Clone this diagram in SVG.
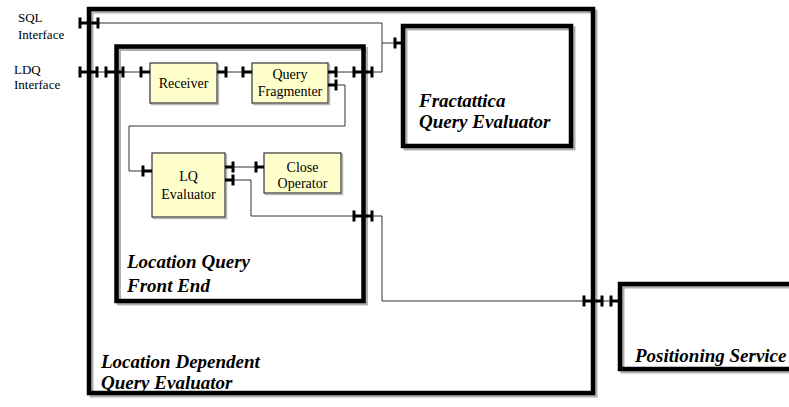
<svg xmlns="http://www.w3.org/2000/svg" width="789" height="407" viewBox="0 0 789 407">
  <style>
    .cap { fill: none; stroke: #000; stroke-width: 4.5; }
    .capShadow { fill: none; stroke: #b0b0b0; stroke-width: 4; }
    .cls { fill: #ffffcc; stroke: #333; stroke-width: 1.2; }
    .clsShadow { fill: none; stroke: #b8b8b8; stroke-width: 1.5; }
    .wire { fill: none; stroke: #333; stroke-width: 1; }
    .stub { stroke: #000; stroke-width: 3; }
    .lbl { font-family: "Liberation Serif", "Times New Roman", serif; font-size: 13px; fill: #000; }
    .cname { font-family: "Liberation Serif", "Times New Roman", serif; font-size: 14px; fill: #000; text-anchor: middle; }
    .title { font-family: "Liberation Serif", "Times New Roman", serif; font-size: 19px; font-weight: bold; font-style: italic; fill: #000; }
  </style>
  <defs>
    <!-- port tick -->
    <rect id="t" x="-1.5" y="-5.5" width="3" height="11"/>
  </defs>
  <rect width="789" height="407" fill="#fff"/>

  <!-- capsule outlines -->
  <g id="ldqe">
    <rect class="capShadow" x="91.5" y="11.5" width="504" height="384"/>
    <rect class="cap" x="89" y="9" width="504" height="384"/>
    <text class="title" x="101" y="368">Location Dependent</text>
    <text class="title" x="101" y="389">Query Evaluator</text>
  </g>
  <g id="lqfe">
    <rect class="capShadow" x="119" y="49" width="247" height="254.5"/>
    <rect class="cap" x="116.5" y="46.5" width="247" height="254.5"/>
    <text class="title" x="127" y="268">Location Query</text>
    <text class="title" x="127" y="292">Front End</text>
  </g>
  <g id="fractattica">
    <rect class="capShadow" x="405.5" y="28.5" width="168" height="120"/>
    <rect class="cap" x="403" y="26" width="168" height="120"/>
    <text class="title" x="419" y="107">Fractattica</text>
    <text class="title" x="419" y="128">Query Evaluator</text>
  </g>
  <g id="positioning">
    <rect class="capShadow" x="622.5" y="286.5" width="200" height="85"/>
    <rect class="cap" x="620" y="284" width="200" height="85"/>
    <text class="title" x="635" y="362">Positioning Service</text>
  </g>

  <!-- classes -->
  <g id="receiver">
    <rect class="clsShadow" x="151.5" y="64.5" width="67" height="40"/>
    <rect class="cls" x="150" y="63" width="67" height="40"/>
    <text class="cname" x="183.5" y="88">Receiver</text>
  </g>
  <g id="fragmenter">
    <rect class="clsShadow" x="253.5" y="64.5" width="76" height="40"/>
    <rect class="cls" x="252" y="63" width="76" height="40"/>
    <text class="cname" x="290" y="79">Query</text>
    <text class="cname" x="290" y="96">Fragmenter</text>
  </g>
  <g id="lqeval">
    <rect class="clsShadow" x="153.5" y="154.5" width="73" height="64"/>
    <rect class="cls" x="152" y="153" width="73" height="64"/>
    <text class="cname" x="188.5" y="181">LQ</text>
    <text class="cname" x="188.5" y="199">Evaluator</text>
  </g>
  <g id="closeop">
    <rect class="clsShadow" x="265.5" y="154.5" width="77" height="40"/>
    <rect class="cls" x="264" y="153" width="77" height="40"/>
    <text class="cname" x="302.5" y="172">Close</text>
    <text class="cname" x="302.5" y="188">Operator</text>
  </g>

  <!-- interface labels -->
  <g id="sql-label">
    <text class="lbl" x="18" y="22">SQL</text>
    <text class="lbl" x="18" y="39">Interface</text>
  </g>
  <g id="ldq-label">
    <text class="lbl" x="14" y="74">LDQ</text>
    <text class="lbl" x="14" y="89">Interface</text>
  </g>

  <!-- connectors and ports -->
  <g id="connectors">
    <!-- SQL interface to fractattica and fragmenter -->
    <polyline class="wire" points="80,23 382,23 382,72"/>
    <polyline class="wire" points="382,43 403,43"/>
    <line class="stub" x1="80" y1="23" x2="98" y2="23"/>
    <use href="#t" x="80" y="23"/><use href="#t" x="98" y="23"/>
    <line class="stub" x1="395" y1="43" x2="403" y2="43"/>
    <use href="#t" x="395" y="43"/>

    <!-- LDQ interface to receiver -->
    <line class="wire" x1="80" y1="72" x2="150" y2="72"/>
    <line class="stub" x1="80" y1="72" x2="97" y2="72"/>
    <line class="stub" x1="106" y1="72" x2="123" y2="72"/>
    <line class="stub" x1="141" y1="72" x2="150" y2="72"/>
    <use href="#t" x="80" y="72"/><use href="#t" x="97" y="72"/>
    <use href="#t" x="106" y="72"/><use href="#t" x="123" y="72"/>
    <use href="#t" x="141" y="72"/>

    <!-- receiver to fragmenter -->
    <line class="wire" x1="217" y1="72" x2="252" y2="72"/>
    <line class="stub" x1="217" y1="72" x2="226" y2="72"/>
    <line class="stub" x1="243" y1="72" x2="252" y2="72"/>
    <use href="#t" x="226" y="72"/><use href="#t" x="243" y="72"/>

    <!-- fragmenter out to SQL junction -->
    <line class="wire" x1="328" y1="72" x2="382" y2="72"/>
    <line class="stub" x1="328" y1="72" x2="336" y2="72"/>
    <line class="stub" x1="354" y1="72" x2="372" y2="72"/>
    <use href="#t" x="336" y="72"/><use href="#t" x="354" y="72"/><use href="#t" x="372" y="72"/>

    <!-- fragmenter to LQ evaluator -->
    <polyline class="wire" points="328,85 345,85 345,126 129,126 129,171 152,171"/>
    <line class="stub" x1="328" y1="85" x2="336" y2="85"/>
    <use href="#t" x="336" y="85"/>
    <line class="stub" x1="143" y1="171" x2="152" y2="171"/>
    <use href="#t" x="143" y="171"/>

    <!-- LQ evaluator to close operator -->
    <line class="wire" x1="225" y1="167" x2="264" y2="167"/>
    <line class="stub" x1="225" y1="167" x2="233" y2="167"/>
    <line class="stub" x1="256" y1="167" x2="264" y2="167"/>
    <use href="#t" x="233" y="167"/><use href="#t" x="256" y="167"/>

    <!-- LQ evaluator to positioning service -->
    <polyline class="wire" points="225,180 251,180 251,216 382,216 382,301 620,301"/>
    <line class="stub" x1="225" y1="180" x2="233" y2="180"/>
    <use href="#t" x="233" y="180"/>
    <line class="stub" x1="354" y1="216" x2="372" y2="216"/>
    <use href="#t" x="354" y="216"/><use href="#t" x="372" y="216"/>
    <line class="stub" x1="584" y1="301" x2="602" y2="301"/>
    <line class="stub" x1="611" y1="301" x2="620" y2="301"/>
    <use href="#t" x="584" y="301"/><use href="#t" x="602" y="301"/><use href="#t" x="611" y="301"/>
  </g>
</svg>
